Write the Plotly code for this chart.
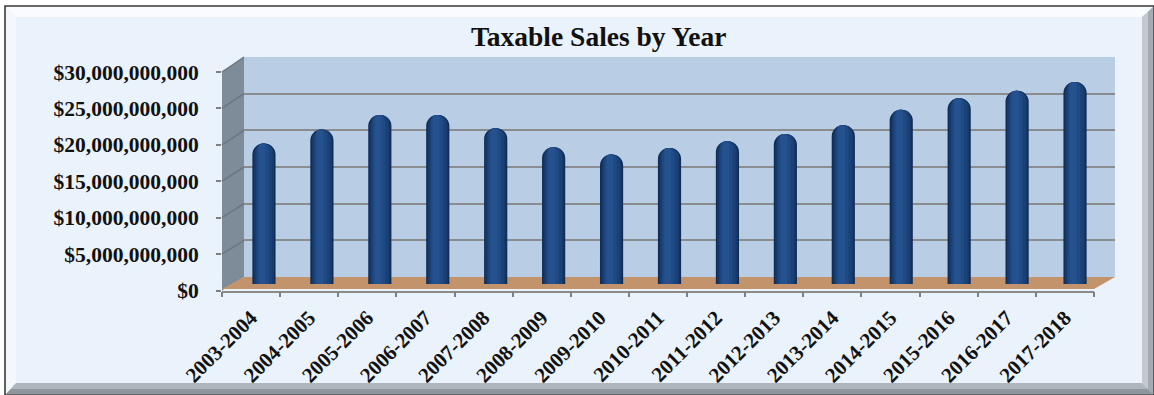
import plotly.graph_objects as go

# ---- data -------------------------------------------------------------
years = ["2003-2004", "2004-2005", "2005-2006", "2006-2007", "2007-2008",
         "2008-2009", "2009-2010", "2010-2011", "2011-2012", "2012-2013",
         "2013-2014", "2014-2015", "2015-2016", "2016-2017", "2017-2018"]
sales_billions = [19.2, 21.1, 23.1, 23.1, 21.3, 18.7, 17.7, 18.6, 19.5,
                  20.5, 21.7, 23.8, 25.4, 26.4, 27.6]
sales = [v * 1e9 for v in sales_billions]
y_ticks = [0, 5e9, 10e9, 15e9, 20e9, 25e9, 30e9]
y_max = 30e9

# ---- page geometry (pixels) --------------------------------------------
W, H = 1154, 395
FRONT = dict(x0=222, x1=1094, y0=290.5, ytop=72)     # front plane of the box
BACK = dict(x0=244, x1=1115, y0=277, ytop=57)        # back wall
MID = dict(x0=235, x1=1104, y0=284, ytop=64.5)       # plane the cylinders stand in

SERIF = "Liberation Serif, Times New Roman, serif"


def fx(x):
    return x / W


def fy(y):
    return 1 - y / H


def path(pts):
    return "M " + " L ".join(f"{fx(x):.5f},{fy(y):.5f}" for x, y in pts) + " Z"


def plane_y(plane, v):
    return plane["y0"] + (plane["ytop"] - plane["y0"]) * v / y_max


shapes = []


def add_poly(pts, fill, line_color=None, line_width=0):
    shapes.append(dict(type="path", xref="paper", yref="paper", layer="below",
                       path=path(pts), fillcolor=fill,
                       line=dict(color=line_color or fill, width=line_width)))


# chart frame with bevelled edges
add_poly([(5, 6), (1154, 6), (1154, 395), (5, 395)], "#EAF2FB", "#3A3A3A", 1.6)
add_poly([(6, 7), (1153, 7), (1142, 17), (16, 17)], "#F9FBFE")
add_poly([(6, 7), (16, 17), (16, 383), (6, 394)], "#F4F8FD")
add_poly([(1142, 17), (1153, 7), (1153, 394), (1142, 383)], "#C3C9CF")
add_poly([(1148, 12), (1153, 7), (1153, 394), (1148, 389)], "#A4ABB3")
add_poly([(16, 383), (1142, 383), (1153, 394), (6, 394)], "#AEB5BC")
add_poly([(11, 389), (1148, 389), (1153, 394), (6, 394)], "#8F969E")

# back wall, side wall and floor of the 3-D box
add_poly([(BACK["x0"], BACK["ytop"]), (BACK["x1"], BACK["ytop"]),
          (BACK["x1"], BACK["y0"]), (BACK["x0"], BACK["y0"])], "#B9CDE5")
add_poly([(FRONT["x0"], FRONT["ytop"]), (BACK["x0"], BACK["ytop"]),
          (BACK["x0"], BACK["y0"]), (FRONT["x0"], FRONT["y0"])], "#7E8B98")
add_poly([(FRONT["x0"], FRONT["y0"] - 1.5), (FRONT["x1"], FRONT["y0"] - 1.5),
          (BACK["x1"], BACK["y0"]), (BACK["x0"], BACK["y0"])], "#C3936B")

# gridlines running across the side wall
for v in y_ticks[1:]:
    shapes.append(dict(type="line", xref="paper", yref="paper", layer="below",
                       x0=fx(FRONT["x0"]), y0=fy(plane_y(FRONT, v)),
                       x1=fx(BACK["x0"]), y1=fy(plane_y(BACK, v)),
                       line=dict(color="#6C7681", width=1.5)))

fig = go.Figure()

# subplot 1: back-wall gridlines
fig.add_trace(go.Scatter(x=[0, 1], y=[None, None], xaxis="x", yaxis="y",
                         hoverinfo="skip", showlegend=False))

# subplot 2: cylinders, built from nested bars for a rounded shading
cylinder_layers = [
    (0.40, None, "#112D55"),
    (0.35, None, "#16386A"),
    (0.29, None, "#1B4277"),
    (0.21, -0.12, "#1F4A84"),
    (0.12, -0.09, "#25528F"),
]
for width, offset, color in cylinder_layers:
    fig.add_trace(go.Bar(
        x=years, y=sales, xaxis="x2", yaxis="y2", width=width, offset=offset,
        marker=dict(color=color, cornerradius="50%", line=dict(width=0)),
        hoverinfo="skip", showlegend=False))

# subplot 3: front axes carrying ticks and labels
fig.add_trace(go.Scatter(x=years, y=[None] * len(years), xaxis="x3", yaxis="y3",
                         hoverinfo="skip", showlegend=False))

fig.update_layout(
    template="none",
    width=W, height=H,
    margin=dict(l=0, r=0, t=0, b=0, pad=0),
    paper_bgcolor="white",
    plot_bgcolor="rgba(0,0,0,0)",
    barmode="overlay",
    showlegend=False,
    shapes=shapes,
    xaxis=dict(domain=[fx(BACK["x0"]), fx(BACK["x1"])], anchor="y",
               range=[0, 1], visible=False, automargin=False),
    yaxis=dict(domain=[fy(BACK["y0"]), fy(BACK["ytop"])], anchor="x",
               range=[0, y_max], tickvals=y_ticks[1:], showgrid=True,
               gridcolor="#8A8C8F", gridwidth=2, zeroline=False,
               showticklabels=False, ticks="", showline=False,
               automargin=False),
    xaxis2=dict(domain=[fx(MID["x0"]), fx(MID["x1"])], anchor="y2",
                type="category", categoryorder="array", categoryarray=years,
                range=[-0.5, len(years) - 0.5], visible=False,
                automargin=False),
    yaxis2=dict(domain=[fy(MID["y0"]), fy(MID["ytop"])], anchor="x2",
                range=[0, y_max], visible=False, automargin=False),
    xaxis3=dict(domain=[fx(FRONT["x0"]), fx(FRONT["x1"])], anchor="y3",
                type="category", categoryorder="array", categoryarray=years,
                range=[-0.5, len(years) - 0.5], tickson="boundaries",
                ticks="outside", ticklen=5, tickcolor="#808080", tickwidth=1.5,
                showline=True, linecolor="#8A8A8A", linewidth=1.5,
                showgrid=False, tickangle=-45,
                tickfont=dict(family=SERIF, size=21, color="#111111",
                              weight="bold"),
                ticklabelstandoff=5, automargin=False),
    yaxis3=dict(domain=[fy(FRONT["y0"]), fy(FRONT["ytop"])], anchor="x3",
                range=[0, y_max], tickvals=y_ticks, tickformat="$,d",
                ticks="outside", ticklen=5,
                tickcolor="#808080", tickwidth=1.5, showline=False,
                showgrid=False, zeroline=False,
                tickfont=dict(family=SERIF, size=21.5, color="#111111",
                              weight="bold"),
                ticklabelstandoff=13, automargin=False),
    annotations=[dict(text="Taxable Sales by Year", xref="paper", yref="paper",
                      x=fx(599), y=fy(36), xanchor="center", yanchor="middle",
                      showarrow=False,
                      font=dict(family=SERIF, size=27.5, color="#111111",
                                weight="bold"))],
)

fig.write_html("out.html")
